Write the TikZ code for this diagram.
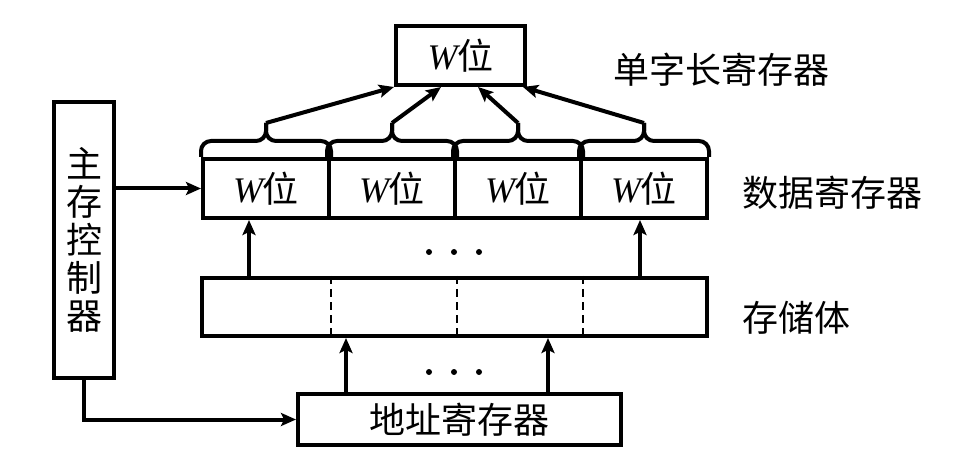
\documentclass[tikz,border=0pt]{standalone}
\usepackage{fontspec}
\setmainfont{Liberation Serif}
\newfontfamily\cjk{Noto Sans CJK SC}
\usetikzlibrary{arrows.meta}

\tikzset{
  reg/.style={draw,line width=4pt,inner sep=0pt,font=\cjk\fontsize{36}{38}\selectfont},
  lbl/.style={anchor=west,inner sep=0pt,font=\cjk\fontsize{36}{38}\selectfont},
  arr/.style={line width=4pt,-{Stealth[length=15pt,width=13pt,inset=3pt]}},
  brc/.style={line width=4pt,rounded corners=10pt},
}

\begin{document}
\begin{tikzpicture}[x=1pt,y=-1pt]
  \useasboundingbox (0,0) rectangle (967,473);

  \node[reg,minimum width=129pt,minimum height=59pt] (word) at (460.5,55.5) {{\rmfamily\itshape W}位};
  \node[lbl] (wordlbl) at (613,70) {单字长寄存器};

  \foreach \i/\x in {1/266,2/392,3/518,4/644}
    \node[reg,minimum width=126pt,minimum height=59pt] (d\i) at (\x,188.5) {{\rmfamily\itshape W}位};
  % braces over the cells
  \foreach \i in {1,...,4} {
    \draw[brc] (d\i.north west) -- ([yshift=16pt]d\i.north west) -- ([yshift=16pt]d\i.north) -- ([yshift=34pt]d\i.north);
    \draw[brc] (d\i.north east) -- ([yshift=16pt]d\i.north east) -- ([yshift=16pt]d\i.north) -- ([yshift=34pt]d\i.north);
  }
  \foreach \i/\dx in {1/0,2/47,3/84,4/129}
    \draw[arr] ([yshift=34pt]d\i.north) -- ([xshift=\dx pt]word.south west);
  \node[lbl] (datalbl) at (742,193) {数据寄存器};

  \node[reg,minimum width=505pt,minimum height=58pt] (mem) at (454.5,307) {};
  \foreach \i in {1,2,3}
    \draw[line width=1.5pt,dash pattern=on 8pt off 5pt] (d\i.south east |- mem.north) -- (d\i.south east |- mem.south);
  \node[lbl] (memlbl) at (742,318) {存储体};

  \node[reg,minimum width=323pt,minimum height=51pt] (addr) at (459.5,419.5) {地址寄存器};
  \node[reg,minimum width=60pt,minimum height=276pt,align=center] (ctrl) at (84,240) {主\\存\\控\\制\\器};

  \draw[arr] (ctrl.east |- d1.west) -- (d1.west);
  \draw[arr] (ctrl.south) |- (addr.west);
  \foreach \dx in {50,252}
    \draw[arr] ([xshift=\dx pt]addr.north west) -- ([xshift=\dx pt]addr.north west |- mem.south);
  \foreach \dx in {49,440}
    \draw[arr] ([xshift=\dx pt]mem.north west) -- ([xshift=\dx pt]mem.north west |- d1.south);

  % dots
  \foreach \x in {429,454,479} {
    \fill (\x,252) circle (3pt);
    \fill (\x,372) circle (3pt);
  }
\end{tikzpicture}
\end{document}
